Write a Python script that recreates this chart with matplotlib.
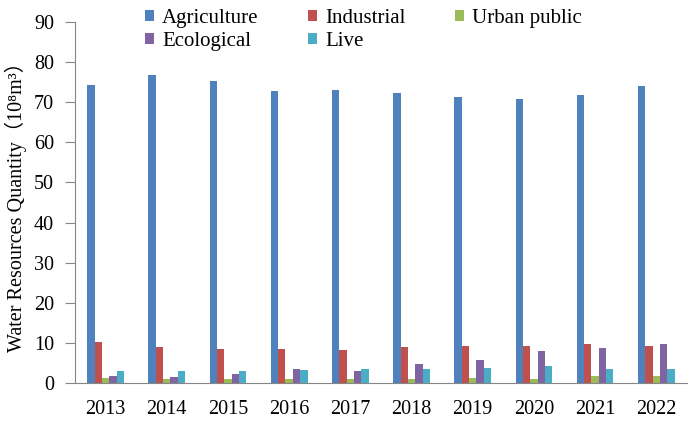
import matplotlib
matplotlib.use("Agg")
import matplotlib.pyplot as plt
import numpy as np

years = ["2013", "2014", "2015", "2016", "2017", "2018", "2019", "2020", "2021", "2022"]
agriculture = [74.3, 76.8, 75.3, 72.8, 73.1, 72.2, 71.3, 70.8, 71.8, 74.1]
industrial = [10.1, 9.0, 8.6, 8.6, 8.3, 9.1, 9.3, 9.3, 9.6, 9.3]
urban_public = [1.3, 1.0, 1.0, 1.0, 1.0, 1.0, 1.3, 1.0, 1.8, 1.8]
ecological = [1.8, 1.6, 2.3, 3.6, 3.1, 4.8, 5.8, 8.1, 8.8, 9.8]
live = [3.1, 3.1, 3.1, 3.3, 3.6, 3.6, 3.8, 4.3, 3.6, 3.6]

series = [
    ("Agriculture", agriculture, "#4F81BD"),
    ("Industrial", industrial, "#C0504D"),
    ("Urban public", urban_public, "#9BBB59"),
    ("Ecological", ecological, "#8064A2"),
    ("Live", live, "#4BACC6"),
]

plt.rcParams["font.family"] = ["Liberation Serif", "Noto Sans CJK SC"]

fig = plt.figure(figsize=(6.98, 4.24), dpi=100)
ax = fig.add_axes([0.1075, 0.0967, 0.8765, 0.8513])

x = np.arange(len(years))
width = 0.12
handles = {}
for i, (name, vals, color) in enumerate(series):
    bars = ax.bar(x + (i - 2) * width, vals, width, color=color, label=name)
    handles[name] = bars

ax.set_xlim(-0.5, len(years) - 0.5)
ax.set_ylim(0, 90)
ax.set_yticks(np.arange(0, 91, 10))
ax.set_xticks(x)
ax.set_xticklabels(years)

for side in ["top", "right"]:
    ax.spines[side].set_visible(False)
for side in ["left", "bottom"]:
    ax.spines[side].set_color("#868686")
    ax.spines[side].set_linewidth(0.8)

ax.tick_params(axis="y", direction="out", length=7, width=0.8, color="#868686",
               labelsize=14.5, pad=8)
ax.tick_params(axis="x", length=0, labelsize=14.5, pad=12)

ax.set_ylabel("Water Resources Quantity（10⁸m³）", fontsize=14.5, labelpad=5)

# reorder so the legend reads row by row like the original
order = ["Agriculture", "Ecological", "Industrial", "Live", "Urban public"]
ax.legend([handles[n] for n in order], order, ncol=3, frameon=False,
          fontsize=15, loc="upper left", bbox_to_anchor=(0.1, 1.06),
          handlelength=0.45, handleheight=0.45, handletextpad=0.4,
          columnspacing=2.35, labelspacing=0.2, borderaxespad=0)

fig.savefig("out.png", dpi=100)
